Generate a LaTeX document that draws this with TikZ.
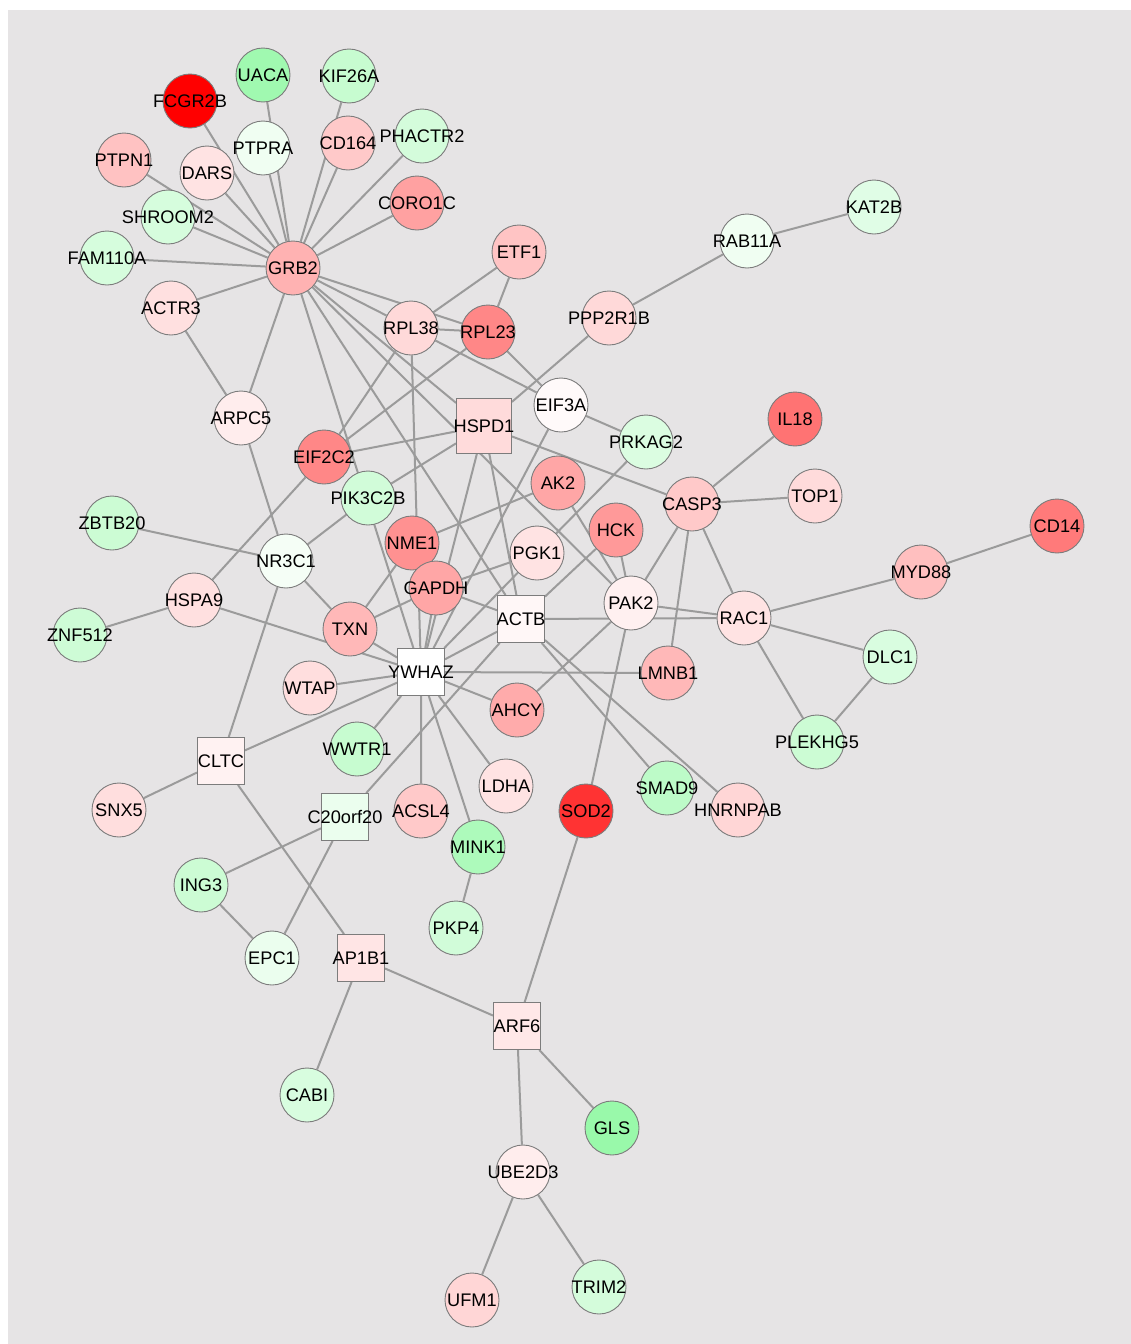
\documentclass[tikz,border=0pt]{standalone}
\usepackage{fontspec}
\setmainfont{Liberation Sans}
\pgfdeclarelayer{back}
\pgfdeclarelayer{edges}
\pgfsetlayers{back,edges,main}
\definecolor{panel}{HTML}{E6E4E5}
\definecolor{wire}{HTML}{9B9B9B}
\definecolor{rim}{HTML}{7C7C7C}
\definecolor{up}{HTML}{FF0000}
\definecolor{down}{HTML}{99F9AA}
\tikzset{
  gene/.style={circle, draw=rim, line width=0.9pt, fill=#1, minimum size=54pt, inner sep=0pt,
    font=\fontsize{18.2}{20}\selectfont,
    execute at begin node={\hbox to 0pt\bgroup\hss}, execute at end node={\hss\egroup}},
  hub/.style={gene=#1, rectangle, minimum size=47pt},
  link/.style={draw=wire, line width=2pt}
}
\begin{document}
\begin{tikzpicture}[x=1pt, y=-1pt]
  \useasboundingbox (0,0) rectangle (1131,1344);
  \begin{pgfonlayer}{back}
    \fill[white] (0,0) rectangle (1131,1344);
    \fill[panel] (8,10) rectangle (1131,1344);
  \end{pgfonlayer}

  % upper cluster round GRB2
  \node[gene=up!100!white] (FCGR2B) at (190,101) {FCGR2B};
  \node[gene=down!93!white] (UACA) at (263,75) {UACA};
  \node[gene=down!55!white] (KIF26A) at (349,76) {KIF26A};
  \node[gene=down!15!white] (PTPRA) at (263,148) {PTPRA};
  \node[gene=up!21!white] (CD164) at (348,143) {CD164};
  \node[gene=down!42!white] (PHACTR2) at (422,136) {PHACTR2};
  \node[gene=up!24!white] (PTPN1) at (124,160) {PTPN1};
  \node[gene=up!11!white] (DARS) at (207,173) {DARS};
  \node[gene=up!37!white] (CORO1C) at (417,203) {CORO1C};
  \node[gene=down!40!white] (SHROOM2) at (168,217) {SHROOM2};
  \node[gene=down!40!white] (FAM110A) at (107,258) {FAM110A};
  \node[gene=up!30!white] (GRB2) at (293,268) {GRB2};
  \node[gene=up!12!white] (ACTR3) at (171,308) {ACTR3};
  \node[gene=up!23!white] (ETF1) at (519,252) {ETF1};
  \node[gene=down!15!white] (RAB11A) at (747,241) {RAB11A};
  \node[gene=down!30!white] (KAT2B) at (874,207) {KAT2B};
  \node[gene=up!15!white] (RPL38) at (411,328) {RPL38};
  \node[gene=up!47!white] (RPL23) at (488,332) {RPL23};
  \node[gene=up!15!white] (PPP2R1B) at (609,318) {PPP2R1B};

  % middle band
  \node[gene=up!7!white] (ARPC5) at (241,418) {ARPC5};
  \node[gene=up!2!white] (EIF3A) at (561,405) {EIF3A};
  \node[hub=up!14!white, minimum size=55pt] (HSPD1) at (484,426) {HSPD1};
  \node[gene=up!55!white] (IL18) at (795,419) {IL18};
  \node[gene=up!47!white] (EIF2C2) at (324,457) {EIF2C2};
  \node[gene=down!35!white] (PRKAG2) at (646,442) {PRKAG2};
  \node[gene=up!35!white] (AK2) at (558,483) {AK2};
  \node[gene=up!14!white] (TOP1) at (815,496) {TOP1};
  \node[gene=up!21!white] (CASP3) at (692,504) {CASP3};
  \node[gene=down!45!white] (PIK3C2B) at (368,498) {PIK3C2B};
  \node[gene=down!50!white] (ZBTB20) at (112,523) {ZBTB20};
  \node[gene=up!40!white] (HCK) at (616,530) {HCK};
  \node[gene=up!43!white] (NME1) at (412,543) {NME1};
  \node[gene=up!52!white] (CD14) at (1057,526) {CD14};
  \node[gene=up!11!white] (PGK1) at (537,553) {PGK1};
  \node[gene=down!10!white] (NR3C1) at (286,561) {NR3C1};
  \node[gene=up!35!white] (GAPDH) at (436,588) {GAPDH};
  \node[gene=up!25!white] (MYD88) at (921,572) {MYD88};
  \node[gene=up!12!white] (HSPA9) at (194,600) {HSPA9};
  \node[gene=up!6!white] (PAK2) at (631,603) {PAK2};
  \node[hub=up!3!white] (ACTB) at (521,619) {ACTB};
  \node[gene=up!11!white] (RAC1) at (744,618) {RAC1};
  \node[gene=down!48!white] (ZNF512) at (80,635) {ZNF512};
  \node[gene=up!28!white] (TXN) at (350,629) {TXN};
  \node[gene=down!37!white] (DLC1) at (890,657) {DLC1};
  \node[hub=white] (YWHAZ) at (421,672) {YWHAZ};
  \node[gene=up!28!white] (LMNB1) at (668,673) {LMNB1};
  \node[gene=up!13!white] (WTAP) at (310,688) {WTAP};
  \node[gene=up!33!white] (AHCY) at (517,710) {AHCY};
  \node[gene=down!50!white] (PLEKHG5) at (817,742) {PLEKHG5};

  % lower part
  \node[gene=down!55!white] (WWTR1) at (357,749) {WWTR1};
  \node[hub=up!5!white] (CLTC) at (221,761) {CLTC};
  \node[gene=up!11!white] (LDHA) at (506,786) {LDHA};
  \node[gene=down!65!white] (SMAD9) at (667,788) {SMAD9};
  \node[gene=up!13!white] (SNX5) at (119,810) {SNX5};
  \node[gene=up!21!white] (ACSL4) at (421,811) {ACSL4};
  \node[gene=up!80!white] (SOD2) at (586,811) {SOD2};
  \node[gene=up!16!white] (HNRNPAB) at (738,810) {HNRNPAB};
  \node[hub=down!20!white] (C20orf20) at (345,817) {C20orf20};
  \node[gene=down!80!white] (MINK1) at (478,847) {MINK1};
  \node[gene=down!50!white] (ING3) at (201,885) {ING3};
  \node[gene=down!45!white] (PKP4) at (456,928) {PKP4};
  \node[gene=down!20!white] (EPC1) at (272,958) {EPC1};
  \node[hub=up!10!white] (AP1B1) at (361,958) {AP1B1};
  \node[hub=up!9!white] (ARF6) at (517,1026) {ARF6};
  \node[gene=down!38!white] (CABI) at (307,1095) {CABI};
  \node[gene=down!100!white] (GLS) at (612,1128) {GLS};
  \node[gene=up!7!white] (UBE2D3) at (523,1172) {UBE2D3};
  \node[gene=up!16!white] (UFM1) at (472,1300) {UFM1};
  \node[gene=down!42!white] (TRIM2) at (599,1287) {TRIM2};

  \begin{pgfonlayer}{edges}
    \draw[link] (GRB2) -- (FCGR2B) (GRB2) -- (UACA) (GRB2) -- (PTPRA) (GRB2) -- (KIF26A);
    \draw[link] (GRB2) -- (CD164) (GRB2) -- (PHACTR2) (GRB2) -- (CORO1C) (GRB2) -- (PTPN1);
    \draw[link] (GRB2) -- (DARS) (GRB2) -- (SHROOM2) (GRB2) -- (FAM110A) (GRB2) -- (ACTR3);
    \draw[link] (GRB2) -- (ARPC5) (GRB2) -- (RPL23) (GRB2) -- (RPL38) (GRB2) -- (HSPD1);
    \draw[link] (GRB2) -- (PAK2) (GRB2) -- (ACTB) (GRB2) -- (YWHAZ);
    \draw[link] (RPL38) -- (EIF3A) (RPL38) -- (ETF1) (RPL38) -- (RPL23) (RPL38) -- (EIF2C2) (RPL38) -- (YWHAZ);
    \draw[link] (RPL23) -- (ETF1) (RPL23) -- (EIF3A) (RPL23) -- (EIF2C2);
    \draw[link] (EIF3A) -- (PRKAG2) (EIF3A) -- (YWHAZ);
    \draw[link] (HSPD1) -- (EIF2C2) (HSPD1) -- (PIK3C2B) (HSPD1) -- (PPP2R1B) (HSPD1) -- (CASP3);
    \draw[link] (HSPD1) -- (ACTB) (HSPD1) -- (YWHAZ);
    \draw[link] (PPP2R1B) -- (RAB11A) (RAB11A) -- (KAT2B);
    \draw[link] (ACTR3) -- (ARPC5) (ARPC5) -- (NR3C1);
    \draw[link] (NR3C1) -- (ZBTB20) (NR3C1) -- (PIK3C2B) (NR3C1) -- (TXN) (NR3C1) -- (CLTC);
    \draw[link] (EIF2C2) -- (HSPA9) (HSPA9) -- (ZNF512) (HSPA9) -- (YWHAZ);
    \draw[link] (PRKAG2) -- (PGK1) (AK2) -- (NME1) (AK2) -- (PAK2);
    \draw[link] (CASP3) -- (IL18) (CASP3) -- (TOP1) (CASP3) -- (PAK2) (CASP3) -- (LMNB1) (CASP3) -- (RAC1);
    \draw[link] (HCK) -- (PAK2) (HCK) -- (ACTB) (TXN) -- (NME1);
    \draw[link] (PGK1) -- (GAPDH) (PGK1) -- (YWHAZ);
    \draw[link] (GAPDH) -- (TXN) (GAPDH) -- (ACTB) (GAPDH) -- (YWHAZ) (TXN) -- (YWHAZ);
    \draw[link] (ACTB) -- (YWHAZ) (ACTB) -- (RAC1) (ACTB) -- (SMAD9) (ACTB) -- (HNRNPAB) (ACTB) -- (C20orf20);
    \draw[link] (PAK2) -- (RAC1) (PAK2) -- (AHCY) (PAK2) -- (SOD2);
    \draw[link] (RAC1) -- (MYD88) (MYD88) -- (CD14) (RAC1) -- (DLC1) (RAC1) -- (PLEKHG5) (DLC1) -- (PLEKHG5);
    \draw[link] (YWHAZ) -- (WTAP) (YWHAZ) -- (LMNB1) (YWHAZ) -- (AHCY) (YWHAZ) -- (CLTC);
    \draw[link] (YWHAZ) -- (WWTR1) (YWHAZ) -- (ACSL4) (YWHAZ) -- (MINK1) (YWHAZ) -- (LDHA);
    \draw[link] (CLTC) -- (SNX5) (CLTC) -- (AP1B1);
    \draw[link] (C20orf20) -- (ING3) (C20orf20) -- (EPC1) (ING3) -- (EPC1) (MINK1) -- (PKP4);
    \draw[link] (SOD2) -- (ARF6) (AP1B1) -- (ARF6) (AP1B1) -- (CABI);
    \draw[link] (ARF6) -- (UBE2D3) (ARF6) -- (GLS) (UBE2D3) -- (UFM1) (UBE2D3) -- (TRIM2);
  \end{pgfonlayer}
\end{tikzpicture}
\end{document}
